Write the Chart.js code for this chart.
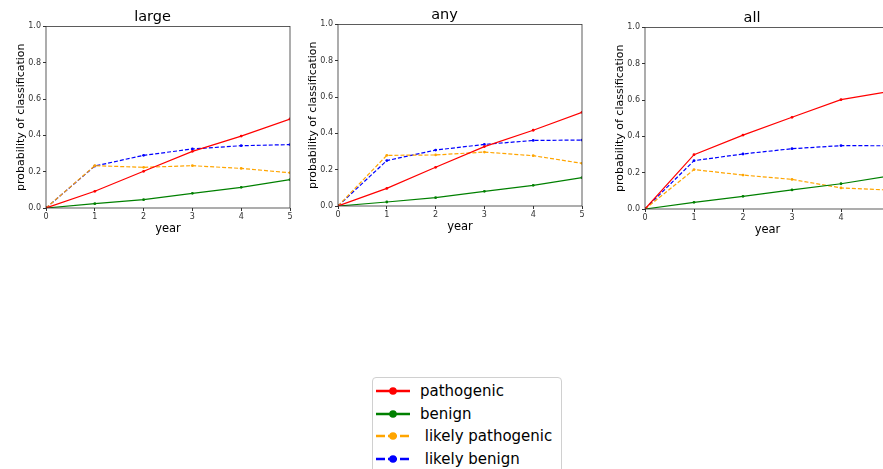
<!DOCTYPE html>
<html>
<head>
<meta charset="utf-8">
<script src="https://cdn.jsdelivr.net/npm/chart.js@4"></script>
<style>
  html, body { margin: 0; padding: 0; background: #fff; width: 883px; height: 469px; overflow: hidden; }
  body { position: relative; font-family: "DejaVu Sans", sans-serif; }
  .plot { position: absolute; }
  #legend { position: absolute; left: 372px; top: 377px; width: 188px; height: 100px; border: 1px solid #d0d0d0; border-radius: 4px; background: #fff; }
  .row { position: absolute; left: 3px; height: 22px; display: flex; align-items: center; font-size: 15px; color: #000; white-space: pre; }
  .row svg { margin-right: 10px; }
</style>
</head>
<body>
<div class="plot" style="left:0px;top:0px;width:300px;height:238px"><canvas id="chart-large"></canvas></div>
<div class="plot" style="left:292px;top:-2px;width:300px;height:238px"><canvas id="chart-any"></canvas></div>
<div class="plot" style="left:599px;top:1px;width:301px;height:238px"><canvas id="chart-all"></canvas></div>
<div id="legend"></div>
<script>
const years = [0, 1, 2, 3, 4, 5];
const seriesNames = ['pathogenic', 'benign', ' likely pathogenic', ' likely benign'];
const seriesColors = ['#ff0000', '#008000', '#ffa500', '#0000ff'];
const seriesDashed = [false, false, true, true];

// large
const largePathogenic = [0, 0.092, 0.202, 0.312, 0.396, 0.490];
const largeBenign = [0, 0.024, 0.046, 0.081, 0.114, 0.156];
const largeLikelyPathogenic = [0, 0.233, 0.224, 0.233, 0.218, 0.194];
const largeLikelyBenign = [0, 0.231, 0.290, 0.325, 0.343, 0.349];

// any
const anyPathogenic = [0, 0.097, 0.213, 0.327, 0.417, 0.516];
const anyBenign = [0, 0.022, 0.046, 0.081, 0.114, 0.156];
const anyLikelyPathogenic = [0, 0.279, 0.281, 0.297, 0.277, 0.235];
const anyLikelyBenign = [0, 0.250, 0.308, 0.339, 0.361, 0.363];

// all
const allPathogenic = [0, 0.299, 0.407, 0.505, 0.602, 0.648];
const allBenign = [0, 0.037, 0.070, 0.105, 0.139, 0.182];
const allLikelyPathogenic = [0, 0.217, 0.187, 0.163, 0.116, 0.104];
const allLikelyBenign = [0, 0.266, 0.303, 0.332, 0.349, 0.348];

const yTicks = [0, 0.2, 0.4, 0.6, 0.8, 1.0];

const frame = {
    id: 'frame',
    afterDraw(chart) {
        const { ctx, chartArea: a } = chart;
        ctx.save();
        ctx.strokeStyle = '#333';
        ctx.lineWidth = 0.8;
        ctx.strokeRect(a.left, a.top, a.right - a.left, a.bottom - a.top);
        ctx.restore();
    }
};

function makeChart(id, title, seriesList) {
    const ctx = document.getElementById(id).getContext('2d');
    return new Chart(ctx, {
        type: 'line',
        data: {
            datasets: seriesList.map((vals, i) => ({
                label: seriesNames[i],
                data: years.map((x, j) => ({ x: x, y: vals[j] })),
                borderColor: seriesColors[i],
                backgroundColor: seriesColors[i],
                borderWidth: 1.2,
                borderDash: seriesDashed[i] ? [4, 2] : [],
                pointRadius: 1.4,
                pointBorderWidth: 0,
                tension: 0,
                fill: false,
            })),
        },
        options: {
            responsive: true,
            maintainAspectRatio: false,
            animation: false,
            layout: { padding: { left: 15, right: 10, top: 0, bottom: 0 } },
            plugins: {
                legend: { display: false },
                tooltip: { enabled: false },
                title: {
                    display: true,
                    text: title,
                    color: '#000',
                    font: { family: 'DejaVu Sans', size: 14.5, weight: 'normal' },
                    padding: { top: 9, bottom: 0 },
                },
            },
            scales: {
                x: {
                    type: 'linear',
                    min: 0,
                    max: 5,
                    afterBuildTicks: s => { s.ticks = years.map(v => ({ value: v })); },
                    ticks: { color: '#333', font: { family: 'DejaVu Sans', size: 8 }, padding: 1, maxRotation: 0 },
                    grid: { drawOnChartArea: false, drawTicks: true, tickLength: 3, color: '#333' },
                    border: { display: false },
                    title: { display: true, text: 'year', color: '#000', font: { family: 'DejaVu Sans', size: 11.5 }, padding: { top: 0, bottom: 2 } },
                    afterFit: s => { s.height = 30; },
                },
                y: {
                    min: 0,
                    max: 1,
                    afterBuildTicks: s => { s.ticks = yTicks.map(v => ({ value: v })); },
                    ticks: { color: '#333', font: { family: 'DejaVu Sans', size: 8 }, padding: 2, callback: v => v.toFixed(1) },
                    grid: { drawOnChartArea: false, drawTicks: true, tickLength: 3, color: '#333' },
                    border: { display: false },
                    title: { display: true, text: 'probability of classification', color: '#000', font: { family: 'DejaVu Sans', size: 11 }, padding: 0 },
                    afterFit: s => { s.width = 31; },
                },
            },
        },
        plugins: [frame],
    });
}

makeChart('chart-large', 'large', [largePathogenic, largeBenign, largeLikelyPathogenic, largeLikelyBenign]);
makeChart('chart-any', 'any', [anyPathogenic, anyBenign, anyLikelyPathogenic, anyLikelyBenign]);
makeChart('chart-all', 'all', [allPathogenic, allBenign, allLikelyPathogenic, allLikelyBenign]);

// legend below the plots
const legend = document.getElementById('legend');
seriesNames.forEach((name, i) => {
    const row = document.createElement('div');
    row.className = 'row';
    row.style.top = (2 + i * 22.7) + 'px';
    const dash = seriesDashed[i] ? 'stroke-dasharray="9,3"' : '';
    row.innerHTML =
        `<svg width="34" height="10"><line x1="0" y1="5" x2="34" y2="5" stroke="${seriesColors[i]}" stroke-width="2.6" ${dash}/>` +
        `<circle cx="17" cy="5" r="3.8" fill="${seriesColors[i]}"/></svg>` +
        `<span>${name}</span>`;
    legend.appendChild(row);
});
</script>
</body>
</html>
